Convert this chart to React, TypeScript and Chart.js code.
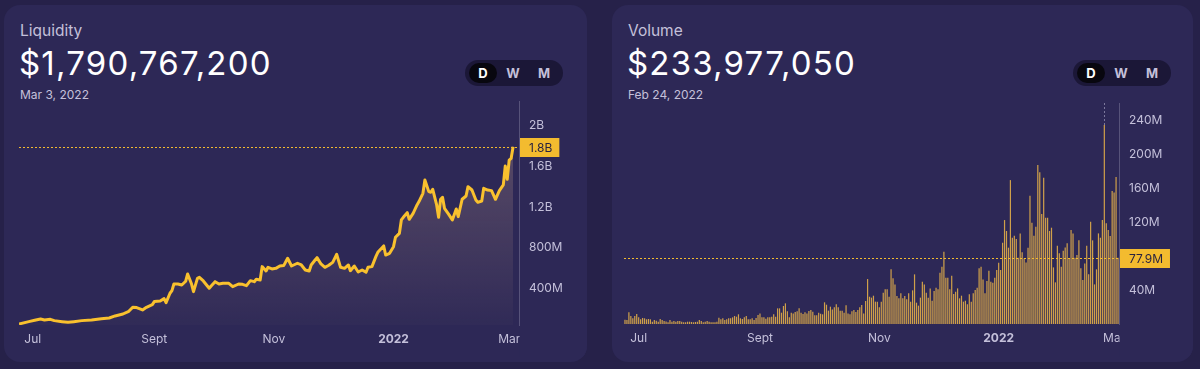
import React, { useEffect, useRef } from "react";
import { Chart, registerables } from "chart.js";

Chart.register(...registerables);

// ---------- colours ----------
const PAGE_BG = "#262149";
const CARD_BG = "#2d2856";
const TEXT_SUB = "#c4c0da";
const AXIS_COLOR = "#57537a";
const GOLD = "#F9C12E";
const LABEL_GOLD = "#F3BB2F";
const BAR_COLOR = "#CFA04A";

// ---------- data ----------
// day offsets are counted from Jun 24, 2021 (day 252 = Mar 3, 2022)
const START_YEAR = 2021;
const START_MONTH = 5; // June (0-based)
const START_DAY = 24;
const DAY_COUNT = 253;

const monthTickDays = [7, 69, 130, 191, 250];
const monthTickLabels = ["Jul", "Sept", "Nov", "2022", "Mar"];

const liquidityTicks = [400, 800, 1200, 1600, 2000]; // millions
const volumeTicks = [40, 80, 120, 160, 200, 240]; // millions

const liquidityDays = [
  0, 5, 8, 11, 13, 16, 18, 22, 25, 28,
  32, 37, 42, 46, 49, 53, 56, 58, 60, 63,
  65, 68, 69, 72, 74, 75, 77, 78, 79, 81,
  83, 85, 86, 88, 89, 91, 92, 94, 97, 98,
  100, 102, 104, 107, 109, 112, 114, 116, 118, 120,
  121, 123, 124, 126, 127, 129, 131, 133, 135, 137,
  139, 142, 144, 146, 148, 149, 151, 152, 154, 156,
  158, 160, 162, 164, 166, 168, 169, 171, 173, 175,
  177, 178, 180, 182, 183, 186, 187, 189, 191, 192,
  194, 195, 196, 198, 199, 201, 203, 204, 206, 207,
  209, 210, 211, 213, 214, 215, 216, 217, 219, 221,
  223, 224, 226, 228, 229, 231, 233, 234, 236, 237,
  239, 241, 243, 245, 247, 248, 249, 250, 251, 252,
];

// liquidity in millions of dollars
const liquidityValuesM = [
  49, 72, 85, 98, 88, 95, 82, 72, 65, 72,
  82, 88, 101, 108, 128, 147, 174, 213, 210, 187,
  213, 239, 269, 275, 298, 259, 351, 377, 442, 442,
  432, 469, 541, 442, 367, 498, 508, 472, 400, 423,
  465, 442, 449, 449, 416, 442, 439, 426, 475, 465,
  488, 482, 613, 570, 606, 590, 596, 619, 623, 695,
  619, 646, 629, 580, 570, 629, 678, 701, 639, 606,
  626, 655, 734, 606, 596, 629, 573, 619, 560, 580,
  557, 606, 613, 711, 754, 816, 727, 744, 809, 901,
  940, 1072, 1098, 1144, 1078, 1137, 1219, 1252, 1334, 1465,
  1350, 1344, 1373, 1219, 1098, 1275, 1294, 1186, 1131, 1072,
  1180, 1104, 1275, 1307, 1399, 1366, 1268, 1245, 1258, 1383,
  1366, 1360, 1275, 1360, 1416, 1602, 1471, 1661, 1678, 1790.77,
];

// daily volume in millions of dollars, Jun 24, 2021 .. Mar 3, 2022
const volumeValuesM = [
  5.0, 4.7, 13.7, 9.4, 6.7, 9.4, 11.8, 7.8, 5.5, 7.1,
  6.7, 5.5, 5.9, 5.5, 2.7, 4.7, 3.9, 2.7, 5.9, 4.7,
  3.5, 3.0, 2.0, 4.7, 2.7, 3.5, 2.7, 3.5, 3.5, 2.7,
  2.0, 2.0, 2.7, 2.7, 2.4, 2.0, 2.4, 2.7, 4.7, 3.5,
  2.0, 2.7, 3.5, 2.7, 2.0, 2.0, 2.0, 2.7, 7.4, 5.5,
  6.7, 4.7, 5.5, 6.7, 6.7, 7.8, 9.4, 8.6, 11.4, 6.7,
  6.0, 7.8, 9.4, 5.5, 5.5, 6.7, 4.7, 7.1, 10.6, 12.5,
  7.8, 7.8, 6.3, 7.8, 7.8, 8.6, 11.4, 8.6, 18.4, 18.4,
  13.3, 21.2, 24.3, 14.9, 7.8, 13.3, 12.5, 14.1, 14.9, 18.4,
  13.3, 11.8, 13.7, 12.5, 15.3, 16.5, 14.5, 10.2, 10.2, 13.3,
  12.0, 11.4, 25.5, 22.7, 15.7, 20.4, 17.2, 19.6, 23.1, 19.6,
  15.7, 15.7, 13.3, 22.0, 12.5, 11.4, 14.9, 16.5, 14.1, 16.5,
  19.6, 22.3, 12.5,
  27.0, 52.9, 32.1, 31.0, 33.3, 26.3, 26.3, 19.6, 26.3, 36.8,
  40.8, 40.8, 32.1, 64.3, 53.7, 46.6, 32.9, 30.2, 36.1, 30.2,
  33.0, 29.0, 36.1, 26.3, 39.6, 58.4, 25.1, 21.6, 31.0, 49.8,
  46.6, 36.8, 31.0, 41.9, 27.4, 38.8, 42.7, 40.8, 60.4, 67.4,
  85.1, 54.5, 54.5, 40.8, 56.8, 35.3, 38.0, 41.9, 30.2, 33.3,
  26.3, 27.4, 23.1, 34.9, 26.3, 36.1, 40.0, 42.7, 65.5, 67.4,
  52.5, 36.1, 50.6, 62.7, 49.8, 48.6, 54.5, 63.5, 72.1, 63.5,
  95.6, 122.3, 109.4, 89.8, 169.3, 101.5, 103.9, 100.0, 78.0, 106.6,
  84.3, 77.2, 72.5, 89.8, 150.9, 119.2, 103.9, 114.5, 187.0, 178.4,
  129.4, 172.1, 125.0, 125.0, 109.4, 113.3, 66.6, 49.0, 92.1, 83.1,
  67.4, 86.2, 90.0, 94.9, 77.2, 110.5, 106.6, 78.0, 81.1, 98.4,
  65.5, 51.7, 71.3, 92.1, 58.4, 120.3, 98.4, 46.6, 64.3, 106.6,
  101.5, 122.3, 233.98, 118.4, 110.5, 103.5, 156.4, 154.8, 172.9, 77.9,
];

const hoveredVolumeDay = 245; // Feb 24, 2022

const dayLabels: string[] = Array.from({ length: DAY_COUNT }, (_, i) => {
  const d = new Date(START_YEAR, START_MONTH, START_DAY + i);
  return d.toDateString();
});

const FONT = 'Inter, "Noto Sans", sans-serif';
Chart.defaults.font.family = FONT;

function fmtAxis(v: number): string {
  return v >= 1000 ? `${+(v / 1000).toFixed(1)}B` : `${v}M`;
}

function monthLabel(v: number): string {
  const k = monthTickDays.indexOf(Math.round(v));
  return k >= 0 ? monthTickLabels[k] : "";
}

function markerPlugin(value: number, text: string, hoverIndex: number | null) {
  return {
    id: "marker",
    afterDraw(chart: any) {
      const { ctx, chartArea, scales } = chart;
      const y = Math.round(scales.y.getPixelForValue(value)) + 0.5;
      ctx.save();
      // x labels are clipped at the axis in the original
      ctx.fillStyle = CARD_BG;
      ctx.fillRect(chartArea.right + 0.5, chartArea.bottom + 2, chart.width - chartArea.right, chart.height - chartArea.bottom);

      if (hoverIndex !== null) {
        const meta = chart.getDatasetMeta(0);
        const el = meta.data[hoverIndex];
        if (el) {
          const hx = Math.round(el.x) + 0.5;
          ctx.strokeStyle = "rgba(190,186,215,0.55)";
          ctx.lineWidth = 1;
          ctx.setLineDash([2, 2]);
          ctx.beginPath();
          ctx.moveTo(hx, chartArea.top);
          ctx.lineTo(hx, el.y);
          ctx.stroke();
        }
      }

      ctx.strokeStyle = LABEL_GOLD;
      ctx.lineWidth = 1;
      ctx.setLineDash([2, 2]);
      ctx.beginPath();
      ctx.moveTo(chartArea.left, y);
      ctx.lineTo(chartArea.right, y);
      ctx.stroke();
      ctx.setLineDash([]);

      ctx.font = `12px ${FONT}`;
      const tw = ctx.measureText(text).width;
      const bx = chartArea.right + 1;
      const bw = tw + 16;
      const bh = 19;
      ctx.fillStyle = LABEL_GOLD;
      ctx.fillRect(bx, y - bh / 2, bw, bh);
      ctx.fillStyle = "#2a2340";
      ctx.textBaseline = "middle";
      ctx.textAlign = "left";
      ctx.fillText(text, bx + 9, y + 0.5);
      ctx.restore();
    },
  };
}

function xAxis(extra: any, height: number) {
  return {
    ...extra,
    grid: { display: false, drawTicks: false },
    border: { display: false },
    afterBuildTicks: (s: any) => {
      s.ticks = monthTickDays.map((v) => ({ value: v }));
    },
    afterFit: (s: any) => {
      s.height = height;
      s.paddingLeft = 0;
      s.paddingRight = 0;
    },
    ticks: {
      padding: 7,
      color: TEXT_SUB,
      autoSkip: false,
      maxRotation: 0,
      font: (c: any) => ({ size: 12, weight: c.tick && c.tick.value === 191 ? "bold" : "normal" }),
      callback: (v: any) => monthLabel(v),
    },
  };
}

function yAxis(min: number, max: number, ticks: number[], width: number) {
  return {
    position: "right",
    min,
    max,
    grid: { display: false, drawTicks: false },
    border: { display: true, color: AXIS_COLOR, width: 1 },
    afterBuildTicks: (s: any) => {
      s.ticks = ticks.map((v) => ({ value: v }));
    },
    afterFit: (s: any) => {
      s.width = width;
      s.paddingTop = 0;
      s.paddingBottom = 0;
    },
    ticks: { padding: 10, color: TEXT_SUB, font: { size: 12 }, callback: (v: any) => fmtAxis(v) },
  };
}

function LiquidityChart() {
  const ref = useRef<HTMLCanvasElement | null>(null);
  useEffect(() => {
    if (!ref.current) return;
    const last = liquidityValuesM[liquidityValuesM.length - 1];
    const chart = new Chart(ref.current, {
      type: "line",
      data: {
        datasets: [
          {
            data: liquidityDays.map((d, i) => ({ x: d, y: liquidityValuesM[i] })),
            borderColor: GOLD,
            borderWidth: 3,
            pointRadius: 0,
            tension: 0,
            borderJoinStyle: "round",
            fill: "start",
            backgroundColor: (c: any) => {
              const area = c.chart.chartArea;
              if (!area) return "transparent";
              const g = c.chart.ctx.createLinearGradient(0, area.top, 0, area.bottom);
              g.addColorStop(0, "rgba(255,205,165,0.25)");
              g.addColorStop(1, "rgba(255,205,165,0.02)");
              return g;
            },
          } as any,
        ],
      },
      options: {
        animation: false,
        responsive: false,
        events: [],
        layout: { padding: { left: 15, top: 6, right: 0, bottom: 0 } },
        plugins: { legend: { display: false }, tooltip: { enabled: false } },
        scales: {
          x: xAxis({ type: "linear", min: 0, max: 255 }, 32),
          y: yAxis(39, 2241, liquidityTicks, 68),
        },
      } as any,
      plugins: [markerPlugin(last, fmtAxis(+(last / 1000).toFixed(1) * 1000), null)],
    });
    return () => chart.destroy();
  }, []);
  return <canvas ref={ref} width={583} height={262} style={{ position: "absolute", left: 0, top: 90 }} />;
}

function VolumeChart() {
  const ref = useRef<HTMLCanvasElement | null>(null);
  useEffect(() => {
    if (!ref.current) return;
    const last = volumeValuesM[volumeValuesM.length - 1];
    const chart = new Chart(ref.current, {
      type: "bar",
      data: {
        labels: dayLabels,
        datasets: [
          {
            data: volumeValuesM,
            backgroundColor: BAR_COLOR,
            borderWidth: 0,
            barPercentage: 0.62,
            categoryPercentage: 1,
          },
        ],
      },
      options: {
        animation: false,
        responsive: false,
        events: [],
        layout: { padding: { left: 12, top: 8, right: 0, bottom: 0 } },
        plugins: { legend: { display: false }, tooltip: { enabled: false } },
        scales: {
          x: xAxis({ type: "category", offset: true }, 33),
          y: yAxis(0, 260, volumeTicks, 74),
        },
      } as any,
      plugins: [markerPlugin(last, `${last.toFixed(1)}M`, hoveredVolumeDay)],
    });
    return () => chart.destroy();
  }, []);
  return <canvas ref={ref} width={581} height={262} style={{ position: "absolute", left: 0, top: 90 }} />;
}

function Toggle() {
  const item = (label: string, center: number, active: boolean) => (
    <div
      style={{
        position: "absolute",
        left: center - 14,
        top: 3,
        width: 28,
        height: 20,
        borderRadius: 10,
        background: active ? "#08070f" : "transparent",
        color: active ? "#ffffff" : TEXT_SUB,
        fontSize: 13,
        fontWeight: 700,
        lineHeight: "20px",
        textAlign: "center",
      }}
    >
      {label}
    </div>
  );
  return (
    <div
      style={{
        position: "absolute",
        left: 461,
        top: 55,
        width: 98,
        height: 26,
        borderRadius: 13,
        background: "#1b1737",
      }}
    >
      {item("D", 18, true)}
      {item("W", 48, false)}
      {item("M", 79, false)}
    </div>
  );
}

function Card(props: { left: number; width: number; title: string; value: string; date: string; children: any }) {
  return (
    <div
      style={{
        position: "absolute",
        left: props.left,
        top: 5,
        width: props.width,
        height: 357,
        borderRadius: 16,
        background: CARD_BG,
        overflow: "hidden",
      }}
    >
      <div style={{ position: "absolute", left: 16, top: 18, fontSize: 15.5, lineHeight: 1, color: TEXT_SUB, whiteSpace: "nowrap" }}>
        {props.title}
      </div>
      <div
        style={{
          position: "absolute",
          left: 15,
          top: 42,
          fontSize: 33,
          letterSpacing: 1.2,
          lineHeight: 1,
          color: "#ffffff",
          whiteSpace: "nowrap",
        }}
      >
        {props.value}
      </div>
      <div style={{ position: "absolute", left: 16, top: 84, fontSize: 12, lineHeight: 1, color: TEXT_SUB, whiteSpace: "nowrap" }}>
        {props.date}
      </div>
      <Toggle />
      {props.children}
    </div>
  );
}

export default function App() {
  return (
    <div
      style={{
        position: "relative",
        width: 1200,
        height: 369,
        background: PAGE_BG,
        fontFamily: FONT,
        overflow: "hidden",
      }}
    >
      <style>{`html,body{margin:0;padding:0;background:${PAGE_BG};}`}</style>
      <Card left={4} width={583} title="Liquidity" value="$1,790,767,200" date="Mar 3, 2022">
        <LiquidityChart />
      </Card>
      <Card left={612} width={581} title="Volume" value="$233,977,050" date="Feb 24, 2022">
        <VolumeChart />
      </Card>
    </div>
  );
}
